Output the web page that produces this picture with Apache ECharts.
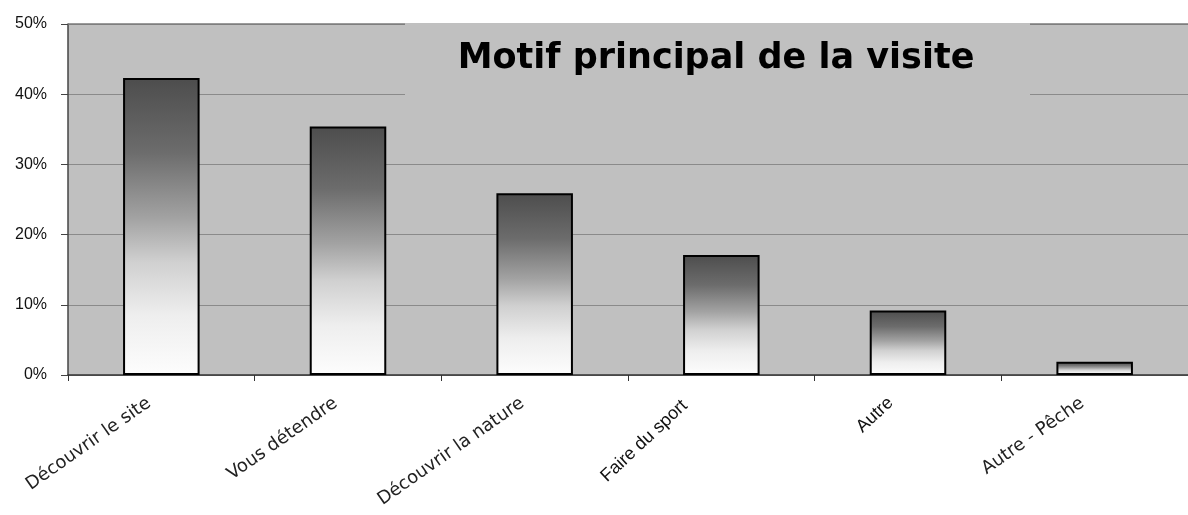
<!DOCTYPE html>
<html><head><meta charset="utf-8">
<script src="https://cdn.jsdelivr.net/npm/echarts@6/dist/echarts.min.js"></script>
<style>html,body{margin:0;padding:0;background:#fff}#c{width:1188px;height:515px}</style>
</head><body><div id="c"></div>
<script>
const categories = ['Découvrir le site','Vous détendre','Découvrir la nature','Faire du sport','Autre','Autre - Pêche'];
const values = [42.3, 35.4, 25.9, 17.1, 9.2, 1.9];
const labelKind = ['b', 'b', 'b', 's', 't', 'b'];
const titleText = 'Motif principal de la visite';

const chart = echarts.init(document.getElementById('c'), null, {renderer:'canvas'});
chart.setOption({
  animation:false,
  backgroundColor:'#ffffff',
  grid:{left:68, top:24, width:1130, bottom:140, show:true, backgroundColor:'#c0c0c0', borderWidth:0},
  xAxis:[{
    type:'category',
    data: categories,
    axisLine:{lineStyle:{color:'#333', width:1.5}},
    axisTick:{show:true, length:6, lineStyle:{color:'#333'}},
    axisLabel:{
      rotate:35, interval:0, margin:18,
      formatter:(v, i)=> labelKind[i] === 'b' ? '{b|' + v + '}' : '',
      rich:{ b:{fontFamily:'DejaVu Sans', fontSize:18, color:'#222', padding:[0,15,0,0]} }
    }
  },{
    type:'category',
    position:'bottom',
    data: categories,
    axisLine:{show:false},
    axisTick:{show:false},
    axisLabel:{
      rotate:43, interval:0, margin:-6,
      formatter:(v, i)=> labelKind[i] === 'b' ? '' : '{' + labelKind[i] + '|' + v + '}',
      rich:{
        s:{fontFamily:'Liberation Sans', fontSize:18, color:'#111', padding:[0,50,0,0]},
        t:{fontFamily:'Liberation Sans', fontSize:18, color:'#111', padding:[22,34,0,0]}
      }
    }
  }],
  yAxis:{
    type:'value', min:0, max:50, interval:10,
    axisLine:{show:true, lineStyle:{color:'#444', width:1.5}},
    axisTick:{show:true, length:7, lineStyle:{color:'#444'}},
    axisLabel:{formatter:v=>v+'%', margin:21, fontFamily:'Liberation Sans', fontSize:16, color:'#111'},
    splitLine:{lineStyle:{color:'#8a8a8a', width:1}}
  },
  series:[{
    type:'bar',
    xAxisIndex:0,
    data: values,
    barWidth:'41%',
    itemStyle:{
      borderColor:'#000', borderWidth:2,
      color:new echarts.graphic.LinearGradient(0,0,0,1,[
        {offset:0, color:'#4d4d4d'},
        {offset:0.25, color:'#6c6c6c'},
        {offset:0.47, color:'#a2a2a2'},
        {offset:0.62, color:'#d0d0d0'},
        {offset:0.8, color:'#eeeeee'},
        {offset:1, color:'#fdfdfd'}
      ])
    }
  }],
  graphic:[
    {type:'line', shape:{x1:68,y1:24,x2:1188,y2:24}, style:{stroke:'#7a7a7a', lineWidth:1.5}, z:50},
    {type:'rect', shape:{x:405,y:23,width:625,height:73}, style:{fill:'#c0c0c0'}, z:100},
    {type:'text', x:716, y:59, style:{text:titleText, fill:'#000', font:'bold 35px "DejaVu Sans"', align:'center', verticalAlign:'middle'}, z:101}
  ]
});
</script></body></html>
